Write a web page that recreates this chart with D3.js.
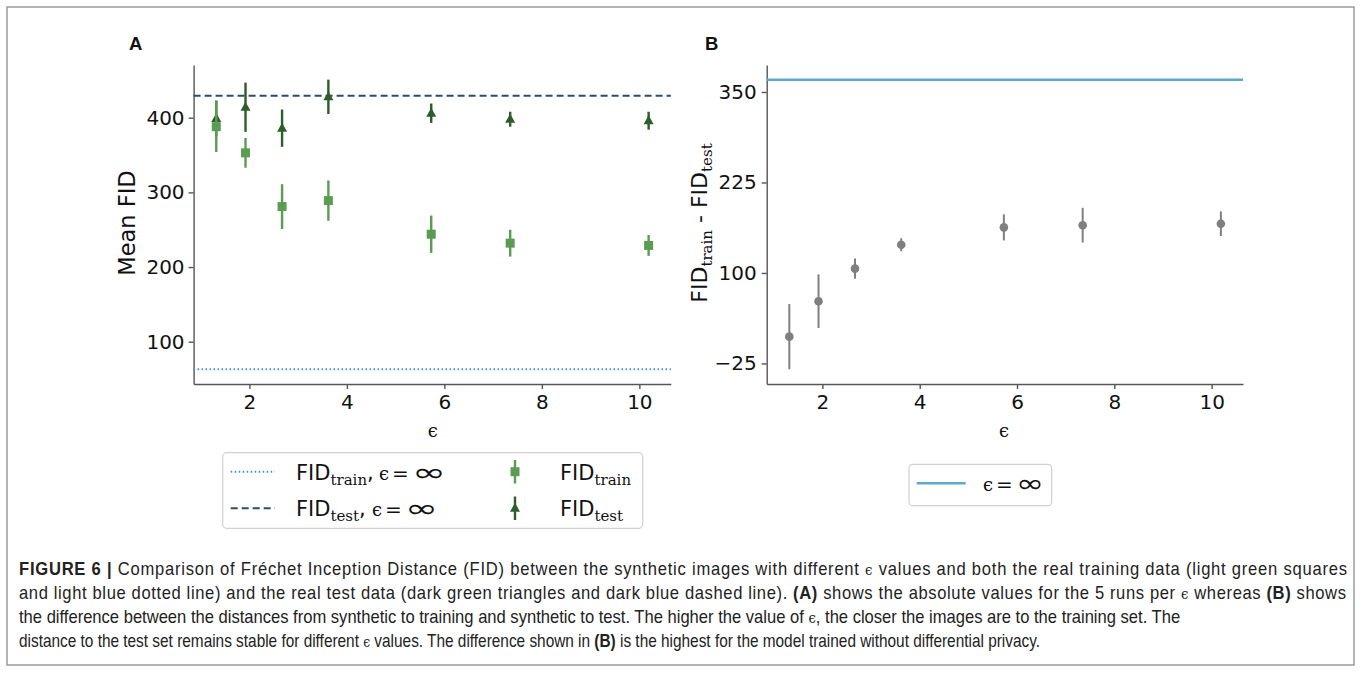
<!DOCTYPE html>
<html>
<head>
<meta charset="utf-8">
<title>FID comparison</title>
<script src="https://cdn.jsdelivr.net/npm/d3@7"></script>
<style>
    body { margin: 0; background: #fff; }
    svg text { fill: #111; }
    .axis text { font-family: "DejaVu Sans", sans-serif; font-size: 20px; fill: #111; }
    .axis path, .axis line { stroke: #555; stroke-width: 1.4; }
    .caption { font-family: "Liberation Sans", Arial, sans-serif; font-size: 17.5px; fill: #222; }
</style>
</head>
<body>
<svg id="fig" width="1360" height="674"></svg>
<script>
    // epsilon values of the runs
    var eps = [1.32, 1.92, 2.67, 3.62, 5.73, 7.35, 10.19];

    // panel A: mean FID and error
    var trainMean = [388, 353, 281, 289, 244, 232, 229];
    var trainErr  = [34, 20, 30, 27, 25, 18, 14];
    var testMean  = [399, 414, 386, 428, 406, 398, 396];
    var testErr   = [24, 33, 25, 23, 13, 10, 12];
    var trainInf = 63, testInf = 429.5;

    // panel B: difference
    var diffMean = [12, 61, 106, 139, 163, 166, 168];
    var diffErr  = [45, 37, 14, 9, 18, 24, 17];
    var diffInf = 367;

    var xTicks = [2, 4, 6, 8, 10];
    var yTicksA = [100, 200, 300, 400];
    var yTicksB = [-25, 100, 225, 350];

    var captionLines = [
        [["FIGURE 6 | ", "b"], ["Comparison of Fréchet Inception Distance (FID) between the synthetic images with different "], ["ϵ", "e"], [" values and both the real training data (light green squares"]],
        [["and light blue dotted line) and the real test data (dark green triangles and dark blue dashed line). "], ["(A)", "b"], [" shows the absolute values for the 5 runs per "], ["ϵ", "e"], [" whereas "], ["(B)", "b"], [" shows"]],
        [["the difference between the distances from synthetic to training and synthetic to test. The higher the value of "], ["ϵ", "e"], [", the closer the images are to the training set. The"]],
        [["distance to the test set remains stable for different "], ["ϵ", "e"], [" values. The difference shown in "], ["(B)", "b"], [" is the highest for the model trained without differential privacy."]]
    ];

    var cLight = '#5c9c52', cDark = '#2f5c2b', cDash = '#2b4d68', cDot = '#3b95cc', cLineB = '#5ea8cf', cGrey = '#7f7f7f';
    var SANS = '"DejaVu Sans", sans-serif', SERIF = '"DejaVu Serif", serif';

    var svg = d3.select('#fig');

    // outer frame
    svg.append('rect').attr('x', 7).attr('y', 7).attr('width', 1347).attr('height', 658)
        .attr('fill', 'none').attr('stroke', '#9a9a9a').attr('stroke-width', 1.5);

    function mathText(sel, parts) {
        parts.forEach(function (p) {
            var t = sel.append('tspan').attr('font-family', p[1]).attr('font-size', p[2]).text(p[0]);
            if (p[3]) t.attr('dy', p[3]);
            if (p[4]) t.attr('dx', p[4]);
        });
        return sel;
    }

    // "ϵ = ∞" with a wide infinity sign
    function epsInf(g, x, y, xs) {
        g.append('text').attr('x', x + xs[0]).attr('y', y).attr('font-family', SERIF).attr('font-size', 18).text('ϵ');
        g.append('text').attr('x', x + xs[1]).attr('y', y).attr('font-family', SANS).attr('font-size', 20).text('=');
        g.append('text').attr('x', x + xs[2]).attr('y', y + 1).attr('font-family', SANS).attr('font-size', 25)
            .attr('textLength', xs[3]).attr('lengthAdjust', 'spacingAndGlyphs').text('∞');
    }

    // ---------- panel A ----------
    var xA = d3.scaleLinear().domain([0.855, 10.645]).range([193.6, 670.8]);
    var yA = d3.scaleLinear().domain([43.4, 470.6]).range([384, 65]);
    var gA = svg.append('g');

    gA.append('g').attr('class', 'axis').attr('transform', 'translate(0,384)')
        .call(d3.axisBottom(xA).tickValues(xTicks).tickSize(5).tickSizeOuter(0).tickPadding(6));
    gA.append('g').attr('class', 'axis').attr('transform', 'translate(193.6,0)')
        .call(d3.axisLeft(yA).tickValues(yTicksA).tickSize(5).tickSizeOuter(0).tickPadding(4));

    gA.append('line').attr('x1', xA.range()[0]).attr('x2', xA.range()[1])
        .attr('y1', yA(trainInf)).attr('y2', yA(trainInf))
        .attr('stroke', cDot).attr('stroke-width', 2).attr('stroke-dasharray', '1.5,2.5');
    gA.append('line').attr('x1', xA.range()[0]).attr('x2', xA.range()[1])
        .attr('y1', yA(testInf)).attr('y2', yA(testInf))
        .attr('stroke', cDash).attr('stroke-width', 2).attr('stroke-dasharray', '7,4');

    var tri = 'M0,-5.5L5,3.5L-5,3.5Z';

    // test (triangles)
    var test = gA.selectAll('.test').data(eps).enter().append('g').attr('class', 'test');
    test.append('line')
        .attr('x1', function (d) { return xA(d); }).attr('x2', function (d) { return xA(d); })
        .attr('y1', function (d, i) { return yA(testMean[i] - testErr[i]); })
        .attr('y2', function (d, i) { return yA(testMean[i] + testErr[i]); })
        .attr('stroke', cDark).attr('stroke-width', 2.4);
    test.append('path').attr('d', tri).attr('fill', cDark)
        .attr('transform', function (d, i) { return 'translate(' + xA(d) + ',' + yA(testMean[i]) + ')'; });

    // train (squares)
    var train = gA.selectAll('.train').data(eps).enter().append('g').attr('class', 'train');
    train.append('line')
        .attr('x1', function (d) { return xA(d); }).attr('x2', function (d) { return xA(d); })
        .attr('y1', function (d, i) { return yA(trainMean[i] - trainErr[i]); })
        .attr('y2', function (d, i) { return yA(trainMean[i] + trainErr[i]); })
        .attr('stroke', cLight).attr('stroke-width', 2.4);
    train.append('rect').attr('width', 9).attr('height', 9).attr('fill', cLight)
        .attr('x', function (d) { return xA(d) - 4.5; })
        .attr('y', function (d, i) { return yA(trainMean[i]) - 4.5; });

    // labels
    svg.append('text').attr('x', 129).attr('y', 49.5).attr('font-family', '"Liberation Sans", Arial, sans-serif')
        .attr('font-weight', 'bold').attr('font-size', 18.5).text('A');
    svg.append('text').attr('transform', 'translate(135,223) rotate(-90)').attr('text-anchor', 'middle')
        .attr('font-family', SANS).attr('font-size', 22.5).text('Mean FID');
    svg.append('text').attr('x', 432.7).attr('y', 437).attr('text-anchor', 'middle')
        .attr('font-family', SERIF).attr('font-size', 18).text('ϵ');

    // legend A
    var lg = svg.append('g');
    lg.append('rect').attr('x', 222.7).attr('y', 452.7).attr('width', 420).attr('height', 75.6)
        .attr('rx', 4).attr('fill', '#fff').attr('stroke', '#d0d0d0').attr('stroke-width', 1.2);
    lg.append('line').attr('x1', 230.7).attr('x2', 275).attr('y1', 471.7).attr('y2', 471.7)
        .attr('stroke', cDot).attr('stroke-width', 2).attr('stroke-dasharray', '1.5,2.5');
    lg.append('line').attr('x1', 230.7).attr('x2', 275).attr('y1', 508.3).attr('y2', 508.3)
        .attr('stroke', cDash).attr('stroke-width', 2).attr('stroke-dasharray', '7,4');
    mathText(lg.append('text').attr('x', 296).attr('y', 479.5), [
        ['FID', SANS, 21], ['train', SERIF, 15, 5], [',', SANS, 21, -5]
    ]);
    epsInf(lg, 296, 479.5, [83, 96, 116, 34]);
    mathText(lg.append('text').attr('x', 296).attr('y', 516), [
        ['FID', SANS, 21], ['test', SERIF, 15, 5], [',', SANS, 21, -5]
    ]);
    epsInf(lg, 296, 516, [76, 89, 109, 33]);
    lg.append('line').attr('x1', 515).attr('x2', 515).attr('y1', 460).attr('y2', 483.5)
        .attr('stroke', cLight).attr('stroke-width', 2.4);
    lg.append('rect').attr('x', 510.5).attr('y', 467.2).attr('width', 9).attr('height', 9).attr('fill', cLight);
    lg.append('line').attr('x1', 515).attr('x2', 515).attr('y1', 496.5).attr('y2', 520)
        .attr('stroke', cDark).attr('stroke-width', 2.4);
    lg.append('path').attr('d', tri).attr('fill', cDark).attr('transform', 'translate(515,508.3)');
    mathText(lg.append('text').attr('x', 560).attr('y', 479.5), [['FID', SANS, 21], ['train', SERIF, 15, 5]]);
    mathText(lg.append('text').attr('x', 560).attr('y', 516), [['FID', SANS, 21], ['test', SERIF, 15, 5]]);

    // ---------- panel B ----------
    var xB = d3.scaleLinear().domain([0.855, 10.645]).range([766.7, 1243]);
    var yB = d3.scaleLinear().domain([-53.4, 387.3]).range([384, 65]);
    var gB = svg.append('g');

    gB.append('g').attr('class', 'axis').attr('transform', 'translate(0,384)')
        .call(d3.axisBottom(xB).tickValues(xTicks).tickSize(5).tickSizeOuter(0).tickPadding(6));
    gB.append('g').attr('class', 'axis').attr('transform', 'translate(766.7,0)')
        .call(d3.axisLeft(yB).tickValues(yTicksB).tickSize(5).tickSizeOuter(0).tickPadding(5));

    gB.append('line').attr('x1', xB.range()[0]).attr('x2', xB.range()[1])
        .attr('y1', yB(diffInf)).attr('y2', yB(diffInf))
        .attr('stroke', cLineB).attr('stroke-width', 2.4);

    var diff = gB.selectAll('.diff').data(eps).enter().append('g').attr('class', 'diff');
    diff.append('line')
        .attr('x1', function (d) { return xB(d); }).attr('x2', function (d) { return xB(d); })
        .attr('y1', function (d, i) { return yB(diffMean[i] - diffErr[i]); })
        .attr('y2', function (d, i) { return yB(diffMean[i] + diffErr[i]); })
        .attr('stroke', cGrey).attr('stroke-width', 2);
    diff.append('circle').attr('r', 4.3).attr('fill', cGrey)
        .attr('cx', function (d) { return xB(d); })
        .attr('cy', function (d, i) { return yB(diffMean[i]); });

    svg.append('text').attr('x', 705).attr('y', 49.5).attr('font-family', '"Liberation Sans", Arial, sans-serif')
        .attr('font-weight', 'bold').attr('font-size', 18.5).text('B');
    mathText(svg.append('text').attr('transform', 'translate(707,223) rotate(-90)').attr('text-anchor', 'middle'), [
        ['FID', SANS, 22], ['train', SERIF, 15, 5], [' - ', SANS, 22, -5], ['FID', SANS, 22], ['test', SERIF, 15, 5]
    ]);
    svg.append('text').attr('x', 1004).attr('y', 437).attr('text-anchor', 'middle')
        .attr('font-family', SERIF).attr('font-size', 18).text('ϵ');

    var lgB = svg.append('g');
    lgB.append('rect').attr('x', 909).attr('y', 464.3).attr('width', 142.7).attr('height', 41.4)
        .attr('rx', 4).attr('fill', '#fff').attr('stroke', '#d0d0d0').attr('stroke-width', 1.2);
    lgB.append('line').attr('x1', 916.7).attr('x2', 965.7).attr('y1', 483.3).attr('y2', 483.3)
        .attr('stroke', cLineB).attr('stroke-width', 2.4);
    epsInf(lgB, 983, 491, [0, 13, 33, 28]);

    // ---------- caption ----------
    // condensed look: one horizontal squeeze for all lines, set from the ragged line 3
    var capEnds = [1347, 1346, 1181, 1040];
    var capY = [575, 599, 623, 647];
    var capG = svg.append('g');
    var capTexts = captionLines.map(function (line, i) {
        var t = capG.append('text').attr('class', 'caption').attr('y', capY[i]);
        line.forEach(function (p) {
            var s = t.append('tspan').text(p[0]);
            if (p[1] === 'b') s.attr('font-weight', 'bold');
            if (p[1] === 'e') s.attr('font-family', SERIF).attr('font-size', 14);
        });
        return t;
    });
    var sx = (capEnds[2] - 19) / capTexts[2].node().getComputedTextLength();
    capG.attr('transform', 'translate(19,0) scale(' + sx + ',1)');
    capTexts.forEach(function (t, i) {
        t.attr('x', 0);
        if (i < 2) t.attr('textLength', (capEnds[i] - 19) / sx).attr('lengthAdjust', 'spacing');
        if (i === 3) t.attr('textLength', (capEnds[i] - 19) / sx).attr('lengthAdjust', 'spacingAndGlyphs');
    });
</script>
</body>
</html>
